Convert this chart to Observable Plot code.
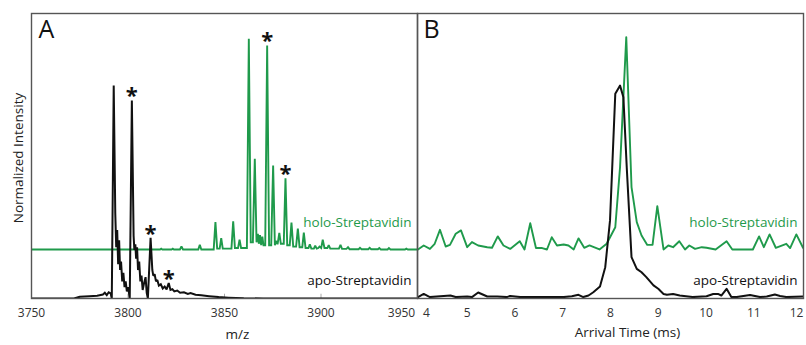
<!DOCTYPE html>
<html><head><meta charset="utf-8">
<script src="https://cdn.jsdelivr.net/npm/d3@7"></script>
<script src="https://cdn.jsdelivr.net/npm/@observablehq/plot@0.6"></script>
<style>
body{margin:0;background:#fff;}
#chart{position:relative;width:806px;height:345px;font-family:"Open Sans",sans-serif;}
#chart svg{position:absolute;top:0;}
</style></head><body><div id="chart"></div>
<script>
// ---- data ----
const mzTicks = [3750, 3800, 3850, 3900, 3950];
const timeTicks = [4, 5, 6, 7, 8, 9, 10, 11, 12];
const seriesNames = ["apo-Streptavidin", "holo-Streptavidin"];
const panelLabels = ["A", "B"];
const axisTitles = ["m/z", "Arrival Time (ms)", "Normalized Intensity"];
const holoOffset = 17.2;

// Panel A: mass spectra [m/z, intensity]
const apoSpectrum = [
 [3750,0],[3772,0],[3775,0.6],[3780,0.8],[3784,1.0],[3787,1.4],[3788,2.0],[3789,1.2],[3790,2.2],[3791,1.8],[3791.6,0],
 [3792.6,74.7],[3793.4,30],[3793.9,18],[3794.4,24],[3794.9,12],[3795.4,20.4],[3795.9,10],[3796.4,13],[3797,6],[3797.6,9],
 [3798.2,4],[3798.8,6],[3799.4,2.5],[3800.1,4],[3800.9,0],
 [3802.0,69.5],[3802.9,22],[3803.3,17],[3803.8,19],[3804.2,14],[3804.7,18],[3805.2,10],[3805.8,13],[3806.4,6],[3807,8],
 [3807.6,3],[3808.2,5],[3809.1,7.5],[3809.7,2],[3810.3,0],
 [3811.7,21.3],[3812.6,10],[3813.1,8],[3813.8,8.5],[3814.5,6],[3815.2,6.5],[3816,4.5],[3817,5],[3818,3.5],[3819,4.2],
 [3820,3.2],[3821.1,5.4],[3822,3],[3823,3.3],[3824,2.5],[3825.5,2.8],[3827,2],[3829,2.2],[3831,1.6],[3832.4,1.9],
 [3835,1.3],[3838,1.1],[3842,0.8],[3847,0.5],[3852,0.3],[3860,0.1],[3870,0],[3950,0]
];
const holoSpectrum = [
 [3750,0],[3816.6,0],[3817.2,0.3],[3817.8,0],[3822.6,0],[3823.2,0.3],[3823.8,0],
 [3826.9,0],[3827.7,1.05],[3828.5,0],[3836.4,0],[3837.2,1.6],[3838,0],
 [3844.4,0],[3845.3,9.6],[3846.2,0.3],[3847.5,0.3],[3848.3,4.0],[3849.1,0.3],
 [3853.6,0.3],[3854.5,9.9],[3855.4,0.5],[3857,0.5],[3857.8,3.4],[3858.6,0.5],
 [3861.6,0.5],[3862.6,73.9],[3863.6,2.5],[3864.7,2.5],[3865.7,31.8],[3866.6,2.5],[3867.3,5.5],[3867.8,2.0],
 [3868.4,5.0],[3869,1.5],[3869.6,4.5],[3870.2,1.5],[3871.1,1.5],[3872.1,71.6],[3873.1,1.5],[3874.2,1.5],
 [3875.2,29.5],[3876.1,1.5],[3877,3],[3877.5,1.8],[3878.4,5.8],[3879.2,2.0],[3880.7,2.0],[3881.6,25.0],
 [3882.5,1.5],[3883.8,1.5],[3884.7,9.4],[3885.6,1.0],[3887.1,1.0],[3888,7.3],[3888.9,0.8],[3890.3,0.8],
 [3891.1,5.9],[3892,0.5],[3893.5,0.5],[3894.2,1.8],[3895,0.3],[3896.3,0.3],[3897,1.3],[3897.8,0.3],
 [3898.6,0.5],[3899.2,1.0],[3900.1,0.5],[3900.9,3.4],[3901.8,0.5],[3903.3,0.5],[3904,1.5],[3904.8,0.3],
 [3909.3,0.3],[3910.1,1.6],[3910.9,0.2],[3913.2,0.2],[3914,0.8],[3914.8,0.1],[3919.5,0.1],[3920.2,0.6],
 [3921,0.1],[3924.5,0.1],[3925.2,0.6],[3926,0.1],[3929.5,0.1],[3930.2,0.5],[3931,0],[3934.5,0],
 [3935.2,0.5],[3936,0],[3943.5,0],[3944.2,0.3],[3945,0],[3950,0]
];
const apoStars = [[3802.0,69.5],[3811.7,21.3],[3821.1,5.4]];
const holoStars = [[3872.1,71.6],[3881.6,25.0]];

// Panel B: arrival time distributions [ms, intensity]
const holoArrival = [
 [3.97,0],[4.09,1.4],[4.22,0.2],[4.32,2.0],[4.43,6.9],[4.55,1.05],[4.64,1.6],[4.76,5.5],[4.87,6.7],[5.0,0.8],
 [5.10,2.6],[5.23,1.4],[5.42,0.8],[5.52,0.6],[5.64,4.6],[5.76,1.4],[5.90,0.2],[6.10,2.9],[6.20,0],[6.32,9.2],
 [6.44,0.5],[6.57,0.5],[6.67,0],[6.77,4.3],[6.88,1.4],[7.02,1.75],[7.12,1.4],[7.23,0],[7.33,3.9],[7.45,0.6],
 [7.56,1.4],[7.77,0],[7.92,2.0],[8.10,7.8],[8.20,28.9],[8.33,74.5],[8.44,21.9],[8.55,9.6],[8.65,4.9],[8.77,1.6],
 [8.88,1.6],[8.98,15.2],[9.11,0],[9.21,1.4],[9.31,0.8],[9.44,2.9],[9.56,0],[9.65,1.4],[9.77,0.2],[9.91,0.8],
 [10.01,0.6],[10.2,0],[10.43,2.9],[10.55,0],[10.98,0],[11.11,4.6],[11.21,0.8],[11.33,5.3],[11.46,0.6],[11.68,2.0],
 [11.76,0.5],[11.89,5.3],[12.03,0.6]
];
const apoArrival = [
 [3.97,0.5],[4.09,1.6],[4.22,0.5],[4.65,1.05],[4.76,0.5],[5.0,0.7],[5.10,0.5],[5.23,2.1],[5.42,0.7],[5.63,0.7],
 [5.83,0.5],[5.90,0.9],[6.11,0.5],[6.39,0.5],[6.74,0.5],[7.02,0.5],[7.19,0.8],[7.33,1.3],[7.43,0.5],[7.54,1.05],
 [7.64,2.2],[7.78,4.2],[7.89,11],[7.99,27.4],[8.10,71.8],[8.20,74.7],[8.27,70.6],[8.34,46],[8.44,14.5],[8.55,10.4],
 [8.65,9.2],[8.75,7.5],[8.90,4.6],[9.0,3.4],[9.11,1.6],[9.18,1.3],[9.31,1.6],[9.45,1.05],[9.58,0.8],[9.72,0.5],
 [10.01,0.8],[10.15,1.6],[10.25,1.6],[10.32,1.05],[10.43,3.4],[10.53,0.5],[10.64,0.5],[10.92,1.2],[11.13,0.5],
 [11.27,0.7],[11.44,1.4],[11.55,0.9],[11.68,0.5],[12.03,0.7]
];

// ---- styling ----
const green = "#1f9a4b";
const ink = "#111";
const font = "'Open Sans', sans-serif";
const common = {
  height: 345, marginTop: 13, marginBottom: 47,
  style: {fontFamily: font, background: "transparent", overflow: "visible"},
  y: {domain: [0, 100], axis: null}
};
const px = d => d[0];
const py = d => d[1];
const pyHolo = d => d[1] + holoOffset;
const tickStyle = {tickSize: 0, tickPadding: 10, fontSize: 12, color: "#333"};
const starStyle = {text: () => "*", fontSize: 22, fontWeight: "bold", fill: ink, dy: -4};

const plotA = Plot.plot({
  ...common, width: 417, marginLeft: 31, marginRight: 0,
  x: {domain: [3750, 3950], axis: null},
  marks: [
    Plot.ruleX(mzTicks.slice(1, 4), {y1: 0, y2: 1.5, stroke: "#aaa"}),
    Plot.line(holoSpectrum, {x: px, y: pyHolo, stroke: green, strokeWidth: 1.9, strokeLinejoin: "miter", strokeMiterlimit: 2, clip: true}),
    Plot.line(apoSpectrum, {x: px, y: py, stroke: ink, strokeWidth: 2, strokeLinejoin: "miter", strokeMiterlimit: 2, clip: true}),
    Plot.text(apoStars, {x: px, y: py, ...starStyle}),
    Plot.text(holoStars, {x: px, y: pyHolo, ...starStyle}),
    Plot.text([seriesNames[1]], {frameAnchor: "bottom-right", dx: -6, dy: -72, fill: green, fontSize: 13.5, textAnchor: "end"}),
    Plot.text([seriesNames[0]], {frameAnchor: "bottom-right", dx: -6, dy: -14, fill: ink, fontSize: 13.5, textAnchor: "end"}),
    Plot.text([panelLabels[0]], {frameAnchor: "top-left", dx: 7, dy: 7, fontSize: 25, lineAnchor: "top", textAnchor: "start", fill: ink}),
    Plot.text([axisTitles[2]], {frameAnchor: "left", rotate: -90, dx: -13, dy: 2, fontSize: 13.5, textAnchor: "middle", fill: "#222"}),
    Plot.text([axisTitles[0]], {frameAnchor: "bottom", dx: 13, dy: 40, fontSize: 13.5, fill: "#222"}),
    Plot.axisX(mzTicks.slice(0, 4), {...tickStyle, tickFormat: d => String(d)}),
    Plot.axisX([mzTicks[4]], {...tickStyle, dx: -16, tickFormat: d => String(d)}),
    Plot.frame({stroke: "#555", strokeWidth: 1.4})
  ]
});

const plotB = Plot.plot({
  ...common, width: 389, marginLeft: 0, marginRight: 3,
  x: {domain: [3.96, 12.04], axis: null},
  marks: [
    Plot.line(holoArrival, {x: px, y: pyHolo, stroke: green, strokeWidth: 1.9, clip: true}),
    Plot.line(apoArrival, {x: px, y: py, stroke: ink, strokeWidth: 2, clip: true}),
    Plot.text([seriesNames[1]], {frameAnchor: "bottom-right", dx: -6, dy: -72, fill: green, fontSize: 13.5, textAnchor: "end"}),
    Plot.text([seriesNames[0]], {frameAnchor: "bottom-right", dx: -6, dy: -14, fill: ink, fontSize: 13.5, textAnchor: "end"}),
    Plot.text([panelLabels[1]], {frameAnchor: "top-left", dx: 6, dy: 7, fontSize: 25, lineAnchor: "top", textAnchor: "start", fill: ink}),
    Plot.text([axisTitles[1]], {frameAnchor: "bottom", dx: 17, dy: 38, fontSize: 13.5, fill: "#222"}),
    Plot.axisX(timeTicks.slice(1, 8), tickStyle),
    Plot.axisX([timeTicks[0]], {...tickStyle, dx: 7}),
    Plot.axisX([timeTicks[8]], {...tickStyle, dx: -5}),
    Plot.frame({stroke: "#555", strokeWidth: 1.4})
  ]
});

const chart = document.getElementById("chart");
plotA.style.left = "0px";
plotB.style.left = "417px";
chart.appendChild(plotA);
chart.appendChild(plotB);
</script></body></html>
